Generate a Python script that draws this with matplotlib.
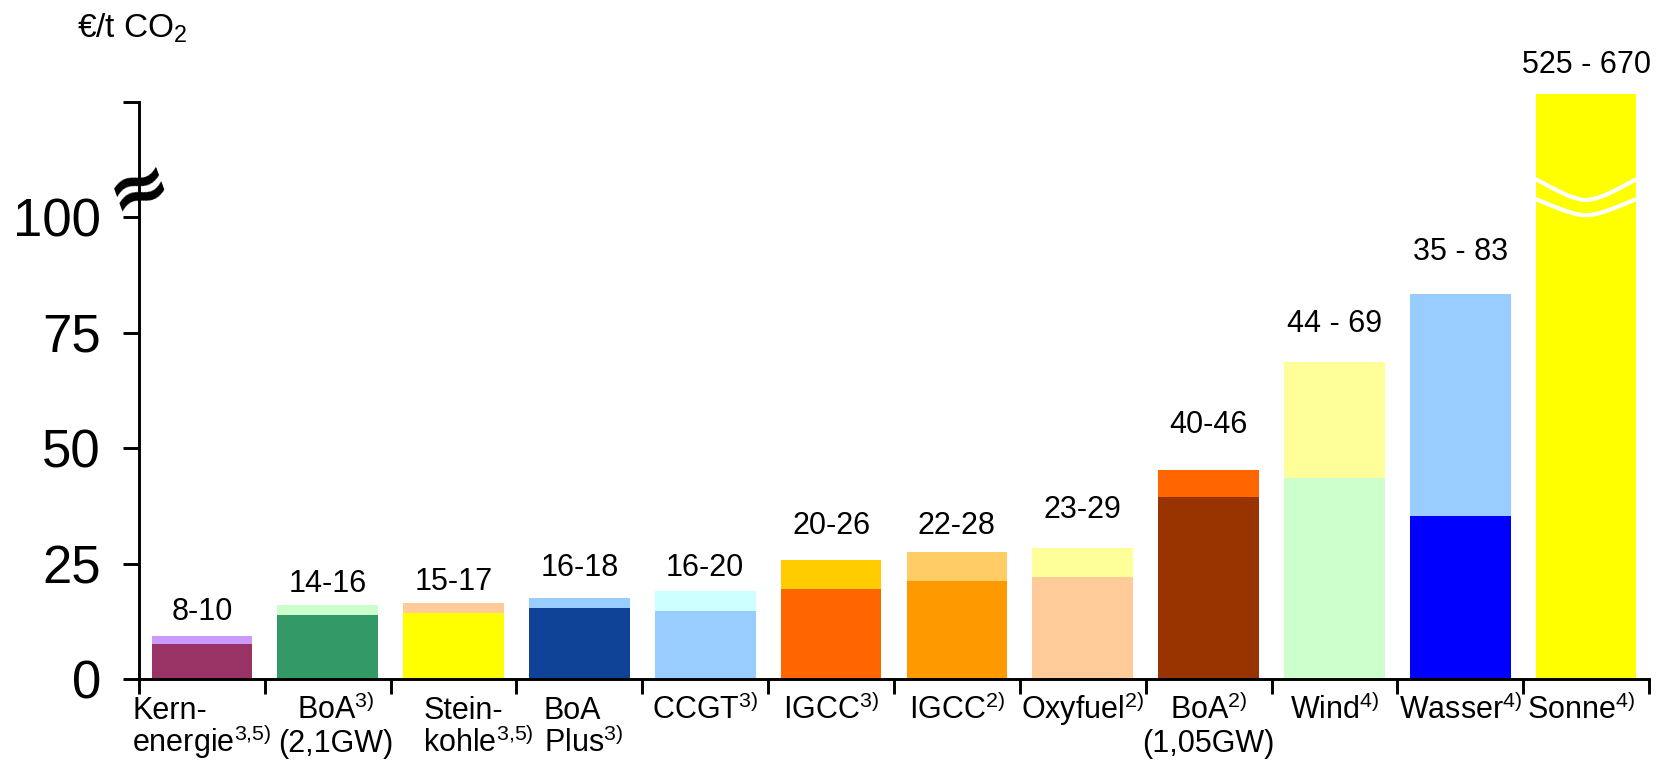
import numpy as np
import matplotlib
matplotlib.use('Agg')
import matplotlib.pyplot as plt

plt.rcParams['font.family'] = ['Liberation Sans', 'DejaVu Sans']
plt.rcParams['mathtext.fontset'] = 'custom'
plt.rcParams['mathtext.rm'] = 'Liberation Sans'
plt.rcParams['mathtext.it'] = 'Liberation Sans:italic'
plt.rcParams['mathtext.bf'] = 'Liberation Sans:bold'

# ---------------- data ----------------
categories = ['Kern-\nenergie$^{3{,}5)}$', 'BoA$^{3)}$\n(2,1GW)', 'Stein-\nkohle$^{3{,}5)}$',
              'BoA\nPlus$^{3)}$', 'CCGT$^{3)}$', 'IGCC$^{3)}$', 'IGCC$^{2)}$',
              'Oxyfuel$^{2)}$', 'BoA$^{2)}$\n(1,05GW)', 'Wind$^{4)}$', 'Wasser$^{4)}$',
              'Sonne$^{4)}$']
range_labels = ['8-10', '14-16', '15-17', '16-18', '16-20', '20-26', '22-28', '23-29',
                '40-46', '44 - 69', '35 - 83', '525 - 670']
low_values = [7.6, 13.9, 14.3, 15.4, 14.7, 19.5, 21.2, 22.1, 39.4, 43.6, 35.3, 126.6]
high_values = [9.3, 16.0, 16.45, 17.5, 19.0, 25.8, 27.5, 28.4, 45.2, 68.6, 83.3, 126.6]
yticks = [0, 25, 50, 75, 100, 125]
ytick_labels = ['0', '25', '50', '75', '100', '']

# ---------------- styles ----------------
low_colors = ['#993366', '#339966', '#FFFF00', '#0E4398', '#99CCFF', '#FF6600',
              '#FF9900', '#FFCC99', '#993300', '#CCFFCC', '#0000FF', '#FFFF00']
high_colors = ['#CC99FF', '#CCFFCC', '#FFCC99', '#99CCFF', '#CCFFFF', '#FFCC00',
               '#FFCC66', '#FFFF99', '#FF6600', '#FFFF99', '#99CCFF', '#FFFF00']
label_offsets = [5.1, 4.6, 4.55, 6.5, 5.0, 7.3, 5.6, 8.2, 9.8, 8.2, 9.1, 6.3]
cat_align = ['left', 'center', 'left', 'left', 'center', 'center', 'center', 'center',
             'center', 'center', 'center', 'center']
cat_shift = [0, 0.06, 0.2, 0.03, 0, 0, 0, 0, 0, 0, 0, -0.04]

W, H = 1665, 760
fig = plt.figure(figsize=(W / 100, H / 100), dpi=100)
ax = fig.add_axes([139 / W, 1 - 679 / H, (1649 - 139) / W, (679 - 101.5) / H])

x = np.arange(len(categories))
bw = 0.8
low = np.array(low_values)
high = np.array(high_values)
ax.bar(x, low, width=bw, color=low_colors, zorder=2, clip_on=False)
ax.bar(x, high - low, bottom=low, width=bw, color=high_colors, zorder=2, clip_on=False)

ax.set_xlim(-0.5, len(categories) - 0.5)
ax.set_ylim(0, 125)

for s in ['top', 'right']:
    ax.spines[s].set_visible(False)
for s in ['left', 'bottom']:
    ax.spines[s].set_linewidth(2.1)

ax.set_yticks(yticks)
ax.set_yticklabels(ytick_labels, fontsize=38)
ax.set_xticks(np.arange(-0.5, len(categories), 1.0))
ax.set_xticklabels([])
ax.tick_params(axis='y', direction='out', length=11.5, width=2.1, pad=16)
ax.tick_params(axis='x', direction='out', length=11, width=2.1)

# value range labels
for i, (lab, top, off) in enumerate(zip(range_labels, high, label_offsets)):
    ax.text(x[i], top + off, lab, ha='center', va='center', fontsize=22,
            clip_on=False, zorder=5)

# category labels: each line placed on its own baseline
baselines_px = [719, 752]
fig.canvas.draw()
renderer = fig.canvas.get_renderer()
for i, lab in enumerate(categories):
    lines = lab.split('\n')
    texts = [fig.text(0, 0, ln, fontsize=22, ha='left', va='baseline') for ln in lines]
    widths = [t.get_window_extent(renderer).width for t in texts]
    block = max(widths)
    cx = ax.transData.transform((x[i] + cat_shift[i], 0))[0]
    for j, (t, w) in enumerate(zip(texts, widths)):
        left = cx - block / 2 if cat_align[i] == 'left' else cx - w / 2
        t.set_position((left / W, 1 - baselines_px[j] / H))

# axis break symbol on y axis
ax.text(-0.5, 106, '≈', ha='center', va='center', fontsize=54, fontweight='bold',
        rotation=20, family='DejaVu Sans', clip_on=False, zorder=6)

# white break waves on the Sonne bar
i = len(categories) - 1
t = np.linspace(-1, 1, 200)
c = 0.35
shape = (np.sqrt(t ** 2 + c ** 2) - c) / (np.sqrt(1 + c ** 2) - c)
for edge, dip in [(108.2, 103.7), (103.9, 100.4)]:
    ax.plot(x[i] + t * bw / 2, dip + (edge - dip) * shape, color='white', lw=3,
            solid_capstyle='butt', zorder=4, clip_on=False)

# y unit label
fig.text(77 / W, 1 - 28 / H, '€/t CO$_{2}$', ha='left', va='center', fontsize=24)

fig.savefig('out.png', dpi=100)
